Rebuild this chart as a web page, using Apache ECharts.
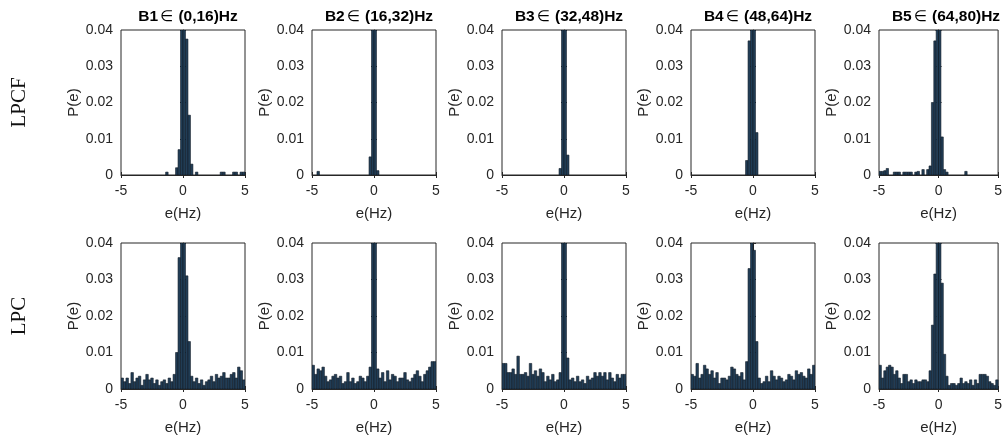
<!DOCTYPE html>
<html>
<head>
<meta charset="utf-8">
<script src="https://cdn.jsdelivr.net/npm/echarts@6/dist/echarts.min.js"></script>
<style>
html,body{margin:0;padding:0;background:#fff;}
#chart{width:1005px;height:437px;}
</style>
</head>
<body>
<div id="chart"></div>
<script>
// ---- Data ----
const bandNames = ['B1', 'B2', 'B3', 'B4', 'B5'];
const bandRanges = ['(0,16)Hz', '(16,32)Hz', '(32,48)Hz', '(48,64)Hz', '(64,80)Hz'];
const rowLabels = ['LPCF', 'LPC'];
const xTicks = [-5, 0, 5];
const yTicks = [0, 0.01, 0.02, 0.03, 0.04];
const binStart = -5;      // first bin edge (Hz)
const binWidth = 0.2;     // histogram bin width (Hz)

// LPCF row (50 bins each, -5..5 Hz)
const lpcfB1 = [0,0,0,0,0,0,0,0,0,0, 0,0,0,0,0,0,0,0,0.0008,0, 0,0,0.002,0.007,0.2,0.2,0.0375,0.0165,0.003,0, 0.0008,0,0,0,0,0,0,0,0,0, 0.0008,0.0008,0,0,0,0.0008,0.0008,0,0.0008,0.0008];
const lpcfB2 = [0,0,0.001,0,0,0,0,0,0,0, 0,0,0,0,0,0,0,0,0,0, 0,0,0,0.005,0.2,0.2,0.0012,0,0,0, 0,0,0,0,0,0,0,0,0,0, 0,0,0,0,0,0,0,0,0,0];
const lpcfB3 = [0,0,0,0,0,0,0,0,0,0, 0,0,0,0,0,0,0,0,0,0, 0,0,0,0.0018,0.2,0.2,0.0055,0,0,0, 0,0,0,0,0,0,0,0,0,0, 0,0,0,0,0,0,0,0,0,0];
const lpcfB4 = [0,0,0,0,0,0,0,0,0,0, 0,0,0,0,0,0,0,0,0,0, 0,0,0.004,0.037,0.2,0.2,0.0117,0,0,0, 0,0,0,0,0,0,0,0,0,0, 0,0,0,0,0,0,0,0,0,0];
const lpcfB5 = [0.001,0.001,0.0012,0.0018,0,0,0.0008,0.0008,0.0008,0, 0.0008,0.0008,0.0008,0.0008,0,0.0008,0.001,0,0.0015,0, 0.0015,0.0025,0.02,0.037,0.2,0.2,0.0105,0.0015,0.0008,0, 0,0,0,0,0,0,0.001,0,0,0, 0,0,0,0,0,0,0,0,0,0];

// LPC row
const lpcB1 = [0.003,0.002,0.003,0.0015,0.0045,0.002,0.003,0.0035,0.001,0.0025, 0.004,0.0025,0.003,0.0015,0.0025,0.001,0.002,0.0025,0.0015,0.003, 0.002,0.004,0.01,0.036,0.2,0.2,0.031,0.013,0.0035,0.002, 0.003,0.0015,0.0025,0.001,0.002,0.0025,0.0035,0.002,0.004,0.003, 0.0035,0.0045,0.003,0.003,0.004,0.0045,0.003,0.006,0.005,0.0025];
const lpcB2 = [0.0065,0.004,0.0055,0.005,0.006,0.0035,0.002,0.0025,0.0035,0.004, 0.003,0.0035,0.0015,0.002,0.0045,0.002,0.003,0.0015,0.002,0.0035, 0.003,0.002,0.0035,0.006,0.2,0.2,0.0055,0.003,0.0045,0.002, 0.005,0.0025,0.004,0.0035,0.002,0.003,0.003,0.0045,0.0025,0.002, 0.003,0.004,0.005,0.0035,0.002,0.004,0.005,0.006,0.0075,0.0075];
const lpcB3 = [0.007,0.007,0.0045,0.0045,0.0055,0.004,0.009,0.004,0.004,0.0045, 0.0035,0.007,0.004,0.005,0.0035,0.0055,0.0045,0.002,0.0035,0.0025, 0.004,0.002,0.0025,0.0045,0.2,0.2,0.0085,0.0025,0.003,0.002, 0.0035,0.002,0.0025,0.0015,0.0035,0.0025,0.003,0.0045,0.0035,0.0045, 0.0035,0.0045,0.0025,0.0045,0.003,0.002,0.004,0.003,0.004,0.004];
const lpcB4 = [0.004,0.0035,0.007,0.003,0.004,0.0065,0.0055,0.004,0.005,0.003, 0.0045,0.0015,0.003,0.003,0.0025,0.0035,0.006,0.0055,0.004,0.0035, 0.0045,0.0025,0.0075,0.033,0.2,0.038,0.013,0.003,0.0015,0.002, 0.0035,0.002,0.005,0.0035,0.0025,0.0035,0.003,0.002,0.0025,0.004, 0.0035,0.0025,0.005,0.004,0.0045,0.0035,0.003,0.0055,0.004,0.0065];
const lpcB5 = [0.0065,0.003,0.005,0.006,0.0065,0.006,0.004,0.005,0.003,0.0015, 0.004,0.004,0.002,0.0025,0.0015,0.0025,0.002,0.002,0.0025,0.0025, 0.002,0.005,0.0175,0.0315,0.2,0.2,0.029,0.0095,0.0035,0.001, 0.0015,0.0015,0.001,0.0015,0.003,0.0015,0.002,0.0015,0.0025,0.001, 0.0025,0.0015,0.004,0.004,0.004,0.0035,0.002,0.0015,0.001,0.0025];

const panels = [
  [lpcfB1, lpcfB2, lpcfB3, lpcfB4, lpcfB5],
  [lpcB1, lpcB2, lpcB3, lpcB4, lpcB5]
];

// ---- Layout ----
const colLeft = [121, 312, 502, 691, 879];
const plotW = 124;
const rowTop = [30, 243];
const plotH = [145, 146];
const axisColor = '#262626';
const fontFam = '"Liberation Sans", Arial, "DejaVu Sans", sans-serif';
const Y_MAX = 0.04;

const grids = [], xAxes = [], yAxes = [], series = [], titles = [];
let idx = 0;
const tickStyle = {show: true, inside: true, length: 3, lineStyle: {color: axisColor}};
for (let r = 0; r < 2; r++) {
  for (let c = 0; c < 5; c++) {
    grids.push({left: colLeft[c], top: rowTop[r], width: plotW, height: plotH[r],
      show: true, borderColor: axisColor, borderWidth: 1, backgroundColor: 'transparent'});
    xAxes.push({type: 'value', gridIndex: idx, min: xTicks[0], max: xTicks[2], interval: 5,
      name: 'e(Hz)', nameLocation: 'middle', nameGap: 31,
      nameTextStyle: {fontSize: 15, color: axisColor, fontFamily: fontFam},
      axisLine: {show: true, onZero: false, lineStyle: {color: axisColor, width: 1}},
      axisTick: tickStyle,
      axisLabel: {fontSize: 14, color: axisColor, fontFamily: fontFam, margin: 9},
      splitLine: {show: false}});
    yAxes.push({type: 'value', gridIndex: idx, min: yTicks[0], max: Y_MAX, interval: 0.01,
      name: 'P(e)', nameLocation: 'middle', nameGap: 38,
      nameTextStyle: {fontSize: 15, color: axisColor, fontFamily: fontFam},
      axisLine: {show: true, lineStyle: {color: axisColor, width: 1}},
      axisTick: tickStyle,
      axisLabel: {fontSize: 14, color: axisColor, fontFamily: fontFam, margin: 8,
        formatter: v => (v === 0 ? '0' : v.toFixed(2))},
      splitLine: {show: false}});
    const vals = panels[r][c];
    const data = [];
    vals.forEach((v, i) => {
      if (v > 0) data.push([binStart + i * binWidth, binStart + (i + 1) * binWidth, v]);
    });
    series.push({type: 'custom', xAxisIndex: idx, yAxisIndex: idx, clip: true,
      data: data, encode: {x: [0, 1], y: 2},
      renderItem: function (params, api) {
        const p0 = api.coord([api.value(0), 0]);
        const p1 = api.coord([api.value(1), Math.min(api.value(2), Y_MAX)]);
        return {type: 'rect',
          shape: {x: p0[0], y: p1[1], width: p1[0] - p0[0], height: p0[1] - p1[1]},
          style: {fill: '#213d56', stroke: '#101b26', lineWidth: 0.6}};
      }});
    if (r === 0) {
      titles.push({text: '{b|' + bandNames[c] + '}{s|\u2208} {b|' + bandRanges[c] + '}',
        left: colLeft[c] + plotW / 2, top: 4, textAlign: 'center',
        textStyle: {fontSize: 15.5, fontWeight: 'bold', color: '#000', fontFamily: fontFam,
          rich: {
            b: {fontSize: 15.5, fontWeight: 'bold', color: '#000', fontFamily: fontFam},
            s: {fontSize: 15, fontWeight: 'normal', color: '#000', fontFamily: '"DejaVu Sans", sans-serif', padding: [0, 1, 0, 2]}
          }}});
    }
    idx++;
  }
}
// mirrored ticks on top / right (box with ticks)
for (let g = 0; g < 10; g++) {
  xAxes.push({type: 'value', gridIndex: g, position: 'top', min: xTicks[0], max: xTicks[2], interval: 5,
    axisLine: {show: false}, axisTick: tickStyle, axisLabel: {show: false}, splitLine: {show: false}});
  yAxes.push({type: 'value', gridIndex: g, position: 'right', min: yTicks[0], max: Y_MAX, interval: 0.01,
    axisLine: {show: false}, axisTick: tickStyle, axisLabel: {show: false}, splitLine: {show: false}});
}

const chart = echarts.init(document.getElementById('chart'), null, {renderer: 'canvas'});
chart.setOption({
  animation: false,
  backgroundColor: '#fff',
  title: titles,
  grid: grids,
  xAxis: xAxes,
  yAxis: yAxes,
  series: series,
  graphic: rowLabels.map((t, r) => ({
    type: 'text', x: 19, y: rowTop[r] + plotH[r] / 2, rotation: Math.PI / 2,
    style: {text: t, fontSize: 21, fontFamily: '"Liberation Serif", "Times New Roman", serif',
      fill: '#111', textAlign: 'center', textVerticalAlign: 'middle'}
  }))
});
</script>
</body>
</html>
